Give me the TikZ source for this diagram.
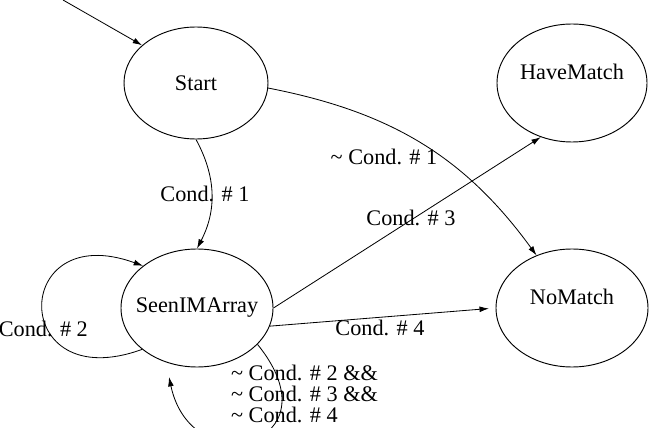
\documentclass[tikz,border=0pt]{standalone}
\usepackage{fontspec}
\setmainfont{Liberation Serif}
\usetikzlibrary{arrows.meta,shapes.geometric,positioning}

\begin{document}
\begin{tikzpicture}[
every node/.style={font=\fontsize{19}{18}\selectfont},
state/.style={draw, ellipse, line width=0.8pt, inner sep=0pt,
              minimum width=4.56cm, minimum height=3.54cm},
trans/.style={-{Latex[length=8pt,width=5pt]}, line width=0.7pt},]
\clip (0,0) rectangle (19.8,12.81);
\node[state, minimum width=4.32cm, minimum height=3.36cm,
      label={center:Start}] (start) at (5.88,10.32) {};
\node[state, minimum width=4.5cm,
      label={[yshift=0.33cm]center:HaveMatch}] (have) at (17.16,10.32) {};
\node[state, label={center:SeenIMArray}] (seen) at (5.91,3.57) {};
\node[state, label={[yshift=0.33cm]center:NoMatch}] (no) at (17.16,3.57) {};

\coordinate (init) at (1.89,12.81);
\coordinate (loopend) at (5.07,1.5);

\draw[trans] (init) -- (start.145);
\draw[trans] (start.south) to[bend left=28] (seen.north);
\draw[trans] (start.-4) to[out=-11,in=126] (no.124);
\draw[trans] (seen.east) -- (have.240);
\draw[trans, shorten >=0.2cm] (seen.-14) -- (no.west);
\draw[trans] (seen.217) .. controls +(200:4.25cm) and +(160:4.25cm) .. (seen.142);
\draw[trans] (seen.-31) .. controls +(-51:3.9cm) and +(-78:3.3cm) .. (loopend);

% labels
\node (c1) at (6.15,6.99) {Cond. \# 1};
\node (nc1) at (11.52,8.1) {\textasciitilde{} Cond. \# 1};
\node (c3) at (12.33,6.27) {Cond. \# 3};
\node (c4) at (11.4,2.97) {Cond. \# 4};
\node (c2) at (1.3,2.94) {Cond. \# 2};
\node[align=left, anchor=west] (nc234) at (6.81,0.98)
     {\textasciitilde{} Cond. \# 2 \&\&\\ \textasciitilde{} Cond. \# 3 \&\&\\ \textasciitilde{} Cond. \# 4};
\end{tikzpicture}
\end{document}
